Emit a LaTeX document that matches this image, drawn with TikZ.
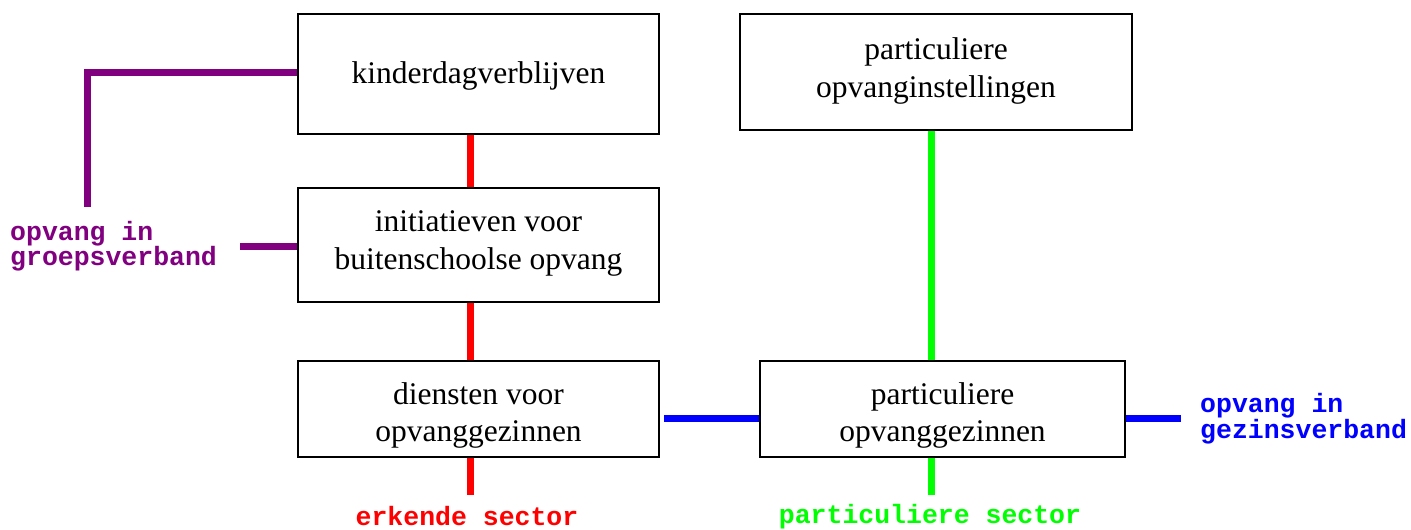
\documentclass[tikz,border=0pt]{standalone}
\usepackage{fontspec}
\setmainfont{Liberation Serif}
\setmonofont{Liberation Mono}
\usetikzlibrary{calc}
\definecolor{vpurple}{HTML}{800080}
\definecolor{vgreen}{HTML}{00FF00}
\tikzset{
  box/.style={draw=black, line width=2pt, inner sep=0pt},
  boxtext/.style={inner sep=0pt, align=center, font=\fontsize{31.5}{37.5}\selectfont},
  conn/.style={line width=7pt, line cap=butt},
  lbl/.style={inner sep=0pt, align=left, font=\fontsize{26.5}{25.5}\selectfont\ttfamily\bfseries}
}
\begin{document}
\begin{tikzpicture}[x=1pt,y=-1pt]
\useasboundingbox (0,0) rectangle (1411,530);
% boxes
\node[box, minimum width=361pt, minimum height=120pt] (kd) at (478.5,74) {};
\node[box, minimum width=361pt, minimum height=114pt] (ini) at (478.5,245) {};
\node[box, minimum width=361pt, minimum height=96pt] (die) at (478.5,409) {};
\node[box, minimum width=392pt, minimum height=116pt] (poi) at (936,72) {};
\node[box, minimum width=365pt, minimum height=96pt] (pog) at (942.5,409) {};
% box texts
\node[boxtext] (kdt) at ($(kd)+(0,2)$) {kinderdagverblijven};
\node[boxtext] (init) at ($(ini)+(0,-1.5)$) {initiatieven voor\\buitenschoolse opvang};
\node[boxtext] (diet) at ($(die)+(0,6.5)$) {diensten voor\\opvanggezinnen};
\node[boxtext] (poit) at ($(poi)+(0,-1)$) {particuliere\\opvanginstellingen};
\node[boxtext] (pogt) at ($(pog)+(0,6.5)$) {particuliere\\opvanggezinnen};
% labels
\node[lbl, text=vpurple, anchor=west] (grp) at (10,246) {opvang in\\groepsverband};
\node[lbl, text=blue, anchor=west] (gez) at (1200,418.5) {opvang in\\gezinsverband};
\node[lbl, text=red] (erk) at (467,516.5) {erkende sector};
\node[lbl, text=vgreen] (par) at (930,516.5) {particuliere sector};
% free ends
\coordinate (redend) at (470,495);
\coordinate (greenend) at (931,495);
\coordinate (blueend) at (1181,418);
\coordinate (pcorner) at (87,72);
\coordinate (pend) at (87,207);
\coordinate (p2end) at (240,246);
% red
\draw[conn, red] ($(kd.south)+(-8.5,0)$) -- ($(ini.north)+(-8.5,0)$);
\draw[conn, red] ($(ini.south)+(-8.5,0)$) -- ($(die.north)+(-8.5,0)$);
\draw[conn, red] ($(die.south)+(-8.5,0)$) -- (redend);
% green
\draw[conn, vgreen] ($(poi.south)+(-5,0)$) -- ($(pog.north)+(-11.5,0)$);
\draw[conn, vgreen] ($(pog.south)+(-11.5,0)$) -- (greenend);
% blue
\draw[conn, blue] ($(die.east)+(4,9)$) -- ($(pog.west)+(0,9)$);
\draw[conn, blue] ($(pog.east)+(0,9)$) -- (blueend);
% purple
\draw[conn, vpurple] ($(kd.west)+(0,-2)$) -- ([xshift=-3.5pt]pcorner);
\draw[conn, vpurple] ([yshift=-3.5pt]pcorner) -- (pend);
\draw[conn, vpurple] ($(ini.west)+(0,1)$) -- (p2end);
\end{tikzpicture}
\end{document}
